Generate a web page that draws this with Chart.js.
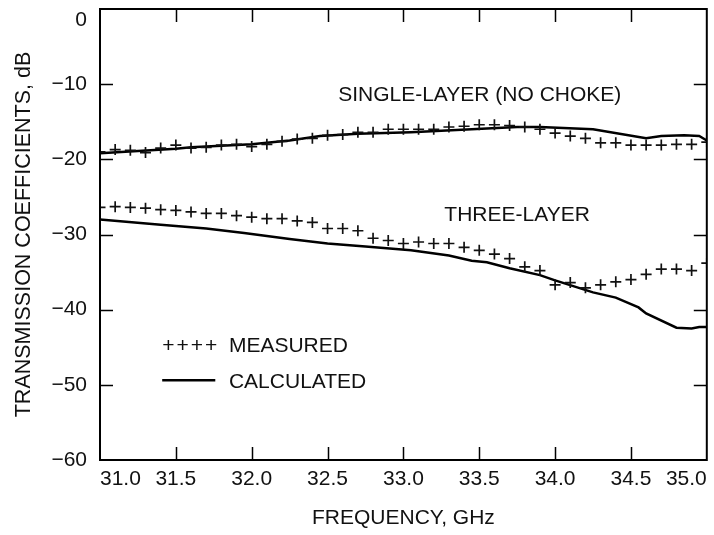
<!DOCTYPE html>
<html lang="en">

<head>
    <meta charset="UTF-8">
    <title>Transmission coefficients</title>
    <script src="https://cdn.jsdelivr.net/npm/chart.js"></script>
    <style>
        body {
            margin: 0;
            padding: 0;
            background: #ffffff;
        }

        #chart-container {
            width: 714px;
            height: 535px;
        }
    </style>
</head>

<body>
    <div id="chart-container">
        <canvas id="txChart" width="714" height="535"></canvas>
    </div>
    <script>
        // measured points, every 0.1 GHz
        const measuredFreq = [31.0, 31.1, 31.2, 31.3, 31.4, 31.5, 31.6, 31.7, 31.8, 31.9,
            32.0, 32.1, 32.2, 32.3, 32.4, 32.5, 32.6, 32.7, 32.8, 32.9,
            33.0, 33.1, 33.2, 33.3, 33.4, 33.5, 33.6, 33.7, 33.8, 33.9,
            34.0, 34.1, 34.2, 34.3, 34.4, 34.5, 34.6, 34.7, 34.8, 34.9, 35.0];
        const singleMeasured = [-19.0, -18.7, -18.8, -19.1, -18.5, -18.1, -18.5, -18.4, -18.1, -18.0,
            -18.3, -18.0, -17.6, -17.3, -17.2, -16.8, -16.7, -16.4, -16.4, -16.0,
            -16.0, -16.0, -16.0, -15.7, -15.6, -15.4, -15.4, -15.5, -15.7, -16.0,
            -16.5, -16.9, -17.2, -17.8, -17.8, -18.1, -18.1, -18.1, -18.0, -18.0, -17.7];
        const threeMeasured = [-26.4, -26.3, -26.4, -26.5, -26.7, -26.8, -27.0, -27.2, -27.2, -27.5,
            -27.7, -27.9, -27.9, -28.2, -28.4, -29.2, -29.2, -29.5, -30.5, -30.8,
            -31.2, -31.0, -31.2, -31.2, -31.7, -32.1, -32.6, -33.2, -34.3, -34.8,
            -36.7, -36.4, -37.1, -36.7, -36.3, -36.0, -35.3, -34.6, -34.6, -34.8, -33.8];

        // calculated curves
        const singleCalcFreq = [31.0, 31.5, 31.6, 32.0, 32.25, 32.45, 32.7, 33.05, 33.75, 33.9,
            34.25, 34.6, 34.7, 34.85, 34.95, 35.0];
        const singleCalc = [-19.2, -18.6, -18.4, -18.0, -17.5, -16.9, -16.6, -16.4, -15.7, -15.7,
            -16.0, -17.2, -16.9, -16.8, -16.9, -17.5];
        const threeCalcFreq = [31.0, 31.4, 31.7, 31.95, 32.25, 32.5, 32.75, 33.05, 33.3, 33.45,
            33.55, 33.7, 33.9, 34.0, 34.25, 34.4, 34.55, 34.6, 34.8, 34.9, 34.95, 35.0];
        const threeCalc = [-28.0, -28.7, -29.2, -29.8, -30.6, -31.2, -31.6, -32.1, -32.8, -33.5,
            -33.7, -34.5, -35.4, -36.1, -37.7, -38.4, -39.7, -40.5, -42.4, -42.5, -42.3, -42.3];

        const xTicks = [31.0, 31.5, 32.0, 32.5, 33.0, 33.5, 34.0, 34.5, 35.0];
        const yTicks = [0, -10, -20, -30, -40, -50, -60];

        const FONT = "'Liberation Sans', Arial, sans-serif";

        function toPoints(xs, ys) {
            return xs.map((x, i) => ({ x: x, y: ys[i] }));
        }

        // frame, inward ticks, curve labels and legend
        const framePlugin = {
            id: 'frame',
            afterDraw(chart) {
                const ctx = chart.ctx;
                const a = chart.chartArea;
                const xs = chart.scales.x;
                const ys = chart.scales.y;
                const len = 13;
                ctx.save();
                ctx.strokeStyle = '#000';
                ctx.lineWidth = 1.5;
                ctx.beginPath();
                xTicks.slice(1, -1).forEach(v => {
                    const px = Math.round(xs.getPixelForValue(v)) + 0.5;
                    ctx.moveTo(px, a.bottom); ctx.lineTo(px, a.bottom - len);
                    ctx.moveTo(px, a.top); ctx.lineTo(px, a.top + len);
                });
                yTicks.slice(1, -1).forEach(v => {
                    const py = Math.round(ys.getPixelForValue(v)) + 0.5;
                    ctx.moveTo(a.left, py); ctx.lineTo(a.left + len, py);
                    ctx.moveTo(a.right, py); ctx.lineTo(a.right - len, py);
                });
                ctx.stroke();
                ctx.lineWidth = 2;
                ctx.strokeRect(a.left, a.top, a.right - a.left, a.bottom - a.top);

                ctx.fillStyle = '#111';
                ctx.font = '21px ' + FONT;
                ctx.textBaseline = 'middle';

                // top label sits below the frame corner
                ctx.textAlign = 'right';
                ctx.fillText('0', a.left - 13, ys.getPixelForValue(0) + 11);

                ctx.textAlign = 'left';
                ctx.fillText('SINGLE-LAYER (NO CHOKE)', xs.getPixelForValue(32.57), ys.getPixelForValue(-11.45));
                ctx.fillText('THREE-LAYER', xs.getPixelForValue(33.27), ys.getPixelForValue(-27.4));

                // legend
                const lx0 = xs.getPixelForValue(31.41);
                const lx1 = xs.getPixelForValue(31.76);
                const tx = xs.getPixelForValue(31.85);
                const my = ys.getPixelForValue(-44.8);
                const cy = ys.getPixelForValue(-49.4);
                ctx.letterSpacing = '2px';
                ctx.fillText('++++', lx0, my);
                ctx.letterSpacing = '0px';
                ctx.fillText('MEASURED', tx, my);
                ctx.fillText('CALCULATED', tx, cy + 2);
                ctx.lineWidth = 2.5;
                ctx.beginPath();
                ctx.moveTo(lx0, cy);
                ctx.lineTo(lx1, cy);
                ctx.stroke();
                ctx.restore();
            }
        };

        document.addEventListener("DOMContentLoaded", () => {
            const ctx = document.getElementById('txChart').getContext('2d');

            const crossStyle = {
                showLine: false,
                pointStyle: 'cross',
                pointRadius: 5.5,
                pointBorderWidth: 1.7,
                borderColor: '#111',
                clip: 0
            };
            const lineStyle = {
                showLine: true,
                borderColor: '#000',
                borderWidth: 2.5,
                pointRadius: 0,
                tension: 0,
                clip: 0
            };

            new Chart(ctx, {
                type: 'scatter',
                data: {
                    datasets: [
                        Object.assign({ label: 'Single-layer measured', data: toPoints(measuredFreq, singleMeasured) }, crossStyle),
                        Object.assign({ label: 'Three-layer measured', data: toPoints(measuredFreq, threeMeasured) }, crossStyle),
                        Object.assign({ label: 'Single-layer calculated', data: toPoints(singleCalcFreq, singleCalc) }, lineStyle),
                        Object.assign({ label: 'Three-layer calculated', data: toPoints(threeCalcFreq, threeCalc) }, lineStyle)
                    ]
                },
                options: {
                    responsive: false,
                    animation: false,
                    events: [],
                    layout: { padding: { top: 9, right: 4, left: 0, bottom: 0 } },
                    plugins: {
                        legend: { display: false },
                        tooltip: { enabled: false }
                    },
                    scales: {
                        x: {
                            type: 'linear',
                            min: 31,
                            max: 35,
                            afterFit(scale) {
                                scale.height = 75;
                                scale.paddingLeft = 0;
                                scale.paddingRight = 0;
                            },
                            afterBuildTicks(scale) { scale.ticks = xTicks.map(v => ({ value: v })); },
                            grid: { display: false, drawTicks: false },
                            border: { display: false },
                            ticks: {
                                align: 'inner',
                                autoSkip: false,
                                maxRotation: 0,
                                padding: 7,
                                color: '#111',
                                font: { family: FONT, size: 21 },
                                callback: v => v.toFixed(1)
                            },
                            title: {
                                display: true,
                                text: 'FREQUENCY, GHz',
                                color: '#111',
                                font: { family: FONT, size: 21 },
                                padding: { top: 0, bottom: 4 }
                            }
                        },
                        y: {
                            type: 'linear',
                            min: -60,
                            max: 0,
                            afterFit(scale) {
                                scale.width = 100;
                                scale.paddingTop = 0;
                                scale.paddingBottom = 0;
                            },
                            afterBuildTicks(scale) { scale.ticks = yTicks.map(v => ({ value: v })); },
                            grid: { display: false, drawTicks: false },
                            border: { display: false },
                            ticks: {
                                padding: 13,
                                color: '#111',
                                font: { family: FONT, size: 21 },
                                callback: v => v === 0 ? '' : '\u2212' + Math.abs(v)
                            },
                            title: {
                                display: true,
                                text: 'TRANSMISSION COEFFICIENTS, dB',
                                color: '#111',
                                font: { family: FONT, size: 21.5 },
                                padding: { top: 11, bottom: 0 }
                            }
                        }
                    }
                },
                plugins: [framePlugin]
            });
        });
    </script>
</body>

</html>
